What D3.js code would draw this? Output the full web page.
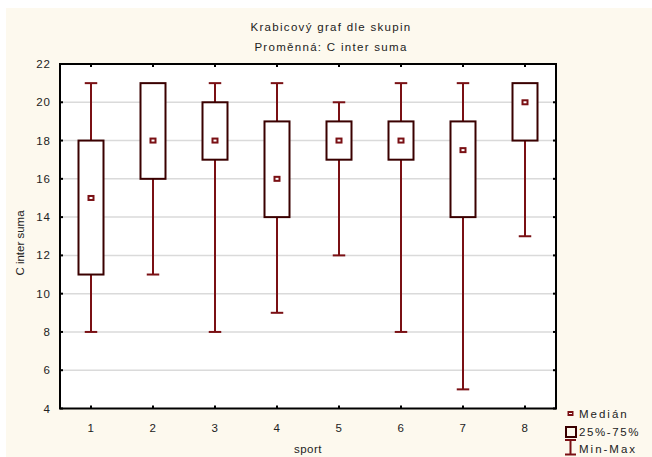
<!DOCTYPE html>
<html><head><meta charset="utf-8">
<script src="https://cdn.jsdelivr.net/npm/d3@7"></script>
<style>html,body{margin:0;padding:0;background:#fff;}svg text{font-family:"Liberation Sans",Arial,sans-serif;fill:#222;}</style>
</head><body>
<svg id="c" width="652" height="457"></svg>
<script>
const categories = ["1","2","3","4","5","6","7","8"];
const minVals    = [8, 11, 8, 9, 12, 8, 5, 13];
const q1Vals     = [11, 16, 17, 14, 17, 17, 14, 18];
const medianVals = [15, 18, 18, 16, 18, 18, 17.5, 20];
const q3Vals     = [18, 21, 20, 19, 19, 19, 19, 21];
const maxVals    = [21, 21, 21, 21, 20, 21, 21, 21];
const yTicks     = [4, 6, 8, 10, 12, 14, 16, 18, 20, 22];

const svg = d3.select("#c");
svg.append("rect").attr("x",6).attr("y",8).attr("width",646).attr("height",449).attr("fill","#fdf9ee");

const L=60, R=556, T=64, B=408.5;
const x = d3.scaleBand().domain(categories).range([L,R]);
const y = d3.scaleLinear().domain([4,22]).range([B,T]);
const boxW = 25, capW = 12.5;
const boxCol = "#3a0000", whCol = "#7a1014";

svg.append("rect").attr("x",L).attr("y",T).attr("width",R-L).attr("height",B-T).attr("fill","#fff");

// gridlines
svg.append("g").selectAll("line").data(yTicks.filter(d=>d>4&&d<22)).join("line")
  .attr("x1",L).attr("x2",R).attr("y1",d=>y(d)).attr("y2",d=>y(d))
  .attr("stroke","#dadada").attr("stroke-width",1.5);

const data = categories.map((c,i)=>({c,min:minVals[i],q1:q1Vals[i],med:medianVals[i],q3:q3Vals[i],max:maxVals[i]}));
const g = svg.append("g");
data.forEach(d=>{
  const cx = x(d.c)+x.bandwidth()/2;
  g.append("line").attr("x1",cx).attr("x2",cx).attr("y1",y(d.max)).attr("y2",y(d.q3)).attr("stroke",whCol).attr("stroke-width",2);
  g.append("line").attr("x1",cx).attr("x2",cx).attr("y1",y(d.q1)).attr("y2",y(d.min)).attr("stroke",whCol).attr("stroke-width",2);
  if (d.max>d.q3) g.append("line").attr("x1",cx-capW/2).attr("x2",cx+capW/2).attr("y1",y(d.max)).attr("y2",y(d.max)).attr("stroke",whCol).attr("stroke-width",2);
  if (d.min<d.q1) g.append("line").attr("x1",cx-capW/2).attr("x2",cx+capW/2).attr("y1",y(d.min)).attr("y2",y(d.min)).attr("stroke",whCol).attr("stroke-width",2);
  g.append("rect").attr("x",cx-boxW/2).attr("y",y(d.q3)).attr("width",boxW).attr("height",y(d.q1)-y(d.q3))
    .attr("fill","#fff").attr("stroke",boxCol).attr("stroke-width",2);
  g.append("rect").attr("x",cx-2.5).attr("y",y(d.med)-2).attr("width",5).attr("height",4)
    .attr("fill","#fff").attr("stroke",whCol).attr("stroke-width",2);
});

const xt = svg.append("g");
categories.forEach(c=>{
  const cx = x(c)+x.bandwidth()/2;
  xt.append("line").attr("x1",cx).attr("x2",cx).attr("y1",B).attr("y2",B-3).attr("stroke","#000").attr("stroke-width",2);
  xt.append("line").attr("x1",cx).attr("x2",cx).attr("y1",T).attr("y2",T+3).attr("stroke","#000").attr("stroke-width",2);
  xt.append("text").attr("x",cx).attr("y",432).attr("text-anchor","middle").attr("font-size",11.5).attr("letter-spacing",0.5).text(c);
});
yTicks.forEach(t=>{
  xt.append("line").attr("x1",L).attr("x2",L+3).attr("y1",y(t)).attr("y2",y(t)).attr("stroke","#000").attr("stroke-width",2);
  xt.append("line").attr("x1",R).attr("x2",R-3).attr("y1",y(t)).attr("y2",y(t)).attr("stroke","#000").attr("stroke-width",2);
  xt.append("text").attr("x",51).attr("y",y(t)+4).attr("text-anchor","end").attr("font-size",11.5).attr("letter-spacing",1).text(t);
});

svg.append("rect").attr("x",L).attr("y",T).attr("width",R-L).attr("height",B-T).attr("fill","none").attr("stroke","#000").attr("stroke-width",2);

svg.append("text").attr("x",331).attr("y",30.5).attr("text-anchor","middle").attr("font-size",11.5).attr("letter-spacing",1.3).text("Krabicový graf dle skupin");
svg.append("text").attr("x",331).attr("y",50.5).attr("text-anchor","middle").attr("font-size",11.5).attr("letter-spacing",1.3).text("Proměnná: C inter suma");
svg.append("text").attr("x",308).attr("y",453).attr("text-anchor","middle").attr("font-size",11.5).attr("letter-spacing",0.5).text("sport");
svg.append("text").attr("transform","translate(23.5,243) rotate(-90)").attr("text-anchor","middle").attr("font-size",11.5).text("C inter suma");

const lg = svg.append("g");
lg.append("rect").attr("x",568.5).attr("y",412).attr("width",4).attr("height",3).attr("fill","#fff").attr("stroke",whCol).attr("stroke-width",2);
lg.append("text").attr("x",579).attr("y",417.5).attr("font-size",11.5).attr("letter-spacing",2).text("Medián");
lg.append("rect").attr("x",566).attr("y",427).attr("width",10).attr("height",10).attr("fill","none").attr("stroke",boxCol).attr("stroke-width",2);
lg.append("text").attr("x",579).attr("y",435.5).attr("font-size",11.5).attr("letter-spacing",1.6).text("25%-75%");
lg.append("line").attr("x1",570.5).attr("x2",570.5).attr("y1",439).attr("y2",455).attr("stroke",whCol).attr("stroke-width",2);
lg.append("line").attr("x1",565).attr("x2",576).attr("y1",454.5).attr("y2",454.5).attr("stroke",whCol).attr("stroke-width",2);
lg.append("line").attr("x1",565).attr("x2",576).attr("y1",440).attr("y2",440).attr("stroke",whCol).attr("stroke-width",2);
lg.append("text").attr("x",579).attr("y",452.5).attr("font-size",11.5).attr("letter-spacing",2).text("Min-Max");
</script>
</body></html>
